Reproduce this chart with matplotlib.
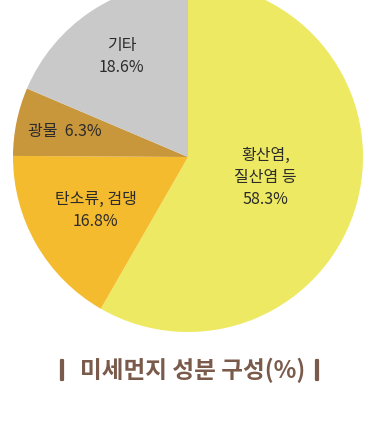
import matplotlib
matplotlib.use("Agg")
import numpy as np
import matplotlib.pyplot as plt
import matplotlib.patheffects as pe

plt.rcParams['font.family'] = ['Noto Sans CJK KR', 'DejaVu Sans']

# data
labels = ["황산염,\n질산염 등", "탄소류, 검댕", "광물", "기타"]
values = [58.3, 16.8, 6.3, 18.6]
colors = ["#EDE963", "#F5BB2E", "#C8963B", "#C9C9C9"]
# label placement (fraction of radius) and layout per slice
label_r = [0.46, 0.61, 0.72, 0.69]
label_fmt = ["{}\n{}%", "{}\n{}%", "{}  {}%", "{}\n{}%"]

fig = plt.figure(figsize=(3.86, 4.32), dpi=100)
ax = fig.add_axes([13/386, 100/432, 350/386, 350/432])
wedges, _ = ax.pie(values, colors=colors, startangle=90, counterclock=False,
                   wedgeprops=dict(linewidth=0))
ax.set_xlim(-1, 1)
ax.set_ylim(-1, 1)
ax.set_aspect('equal')
ax.axis('off')

for w, lab, v, r, fmt in zip(wedges, labels, values, label_r, label_fmt):
    ang = np.deg2rad((w.theta1 + w.theta2) / 2)
    ax.text(r*np.cos(ang), r*np.sin(ang), fmt.format(lab, v),
            ha='center', va='center', fontsize=11.5, color='#2B2B2B',
            linespacing=1.4, fontweight='medium')

ty = 1 - 370/432
fig.text(0.5, ty, "미세먼지 성분 구성(%)", ha='center', va='center',
         fontsize=17, fontweight='bold', color='#7A5A4A')
for bx in (62, 317):
    fig.text(bx/386, ty + 0.002, "|", ha='center', va='center',
             fontsize=13, fontweight='heavy', color='#7A5A4A',
             path_effects=[pe.withStroke(linewidth=1.6, foreground='#7A5A4A')])

fig.savefig("out.png", dpi=100, facecolor='white')
